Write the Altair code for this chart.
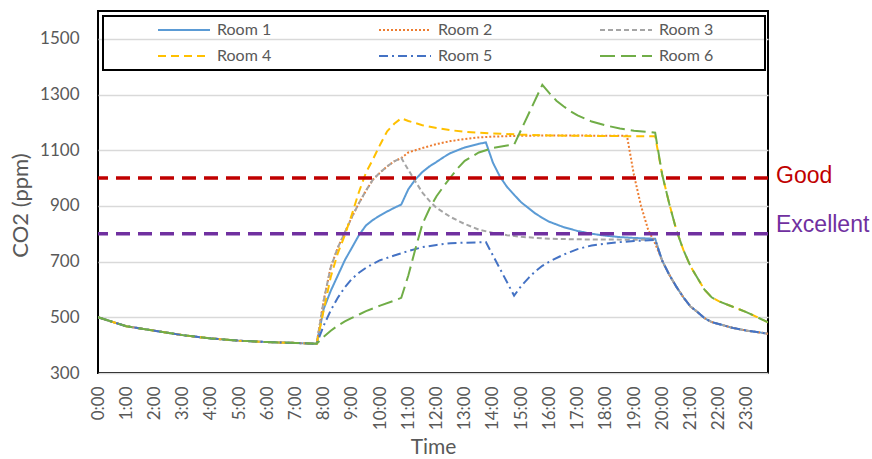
import altair as alt
import pandas as pd

ROOMS = ["Room 1", "Room 2", "Room 3", "Room 4", "Room 5", "Room 6"]
COLORS = ["#5B9BD5", "#ED7D31", "#A5A5A5", "#FFC000", "#4472C4", "#70AD47"]
DASHES = [[1, 0], [2, 2], [5, 3], [8, 5], [9, 4, 2, 4], [15, 6]]

# Overnight decay, the same in every room (ppm)
NIGHT_TIME = ["0:00", "1:00", "2:00", "3:00", "4:00", "5:00", "6:00", "7:00", "7:45"]
NIGHT_CO2 = [500, 468, 452, 436, 424, 416, 411, 408, 405]

# Room 1
R1_TIME = ["8:00", "8:15", "8:30", "8:45", "9:00", "9:15", "9:30", "9:45", "10:00", "10:15",
           "10:30", "10:45", "11:00", "11:15", "11:30", "11:45", "12:00", "12:15", "12:30",
           "13:00", "13:30", "13:45", "14:00", "14:15", "14:30", "14:45", "15:00", "15:15",
           "15:30", "15:45", "16:00", "16:30", "17:00", "17:30", "18:00", "18:30", "19:00", "19:45"]
R1_CO2 = [530, 595, 650, 705, 750, 795, 830, 850, 866, 880,
          893, 905, 960, 995, 1022, 1042, 1058, 1075, 1090,
          1110, 1123, 1128, 1055, 1005, 968, 940, 913, 893,
          873, 857, 843, 824, 810, 800, 793, 788, 785, 782]

# Morning rise shared by rooms 2 and 3
R23_RISE_TIME = ["8:00", "8:15", "8:30", "8:45", "9:00", "9:15", "9:30", "9:45", "10:00",
                 "10:15", "10:30", "10:45"]
R23_RISE_CO2 = [560, 680, 750, 805, 860, 910, 955, 995, 1020, 1042, 1060, 1072]

# Room 2
R2_TIME = ["11:00", "11:30", "12:00", "12:30", "13:00", "13:30", "14:00", "15:00", "16:00",
           "18:45", "19:00", "19:15", "19:30", "19:45"]
R2_CO2 = [1092, 1108, 1122, 1133, 1140, 1146, 1149, 1152, 1153, 1152, 1010, 900, 815, 765]

# Room 3
R3_TIME = ["11:00", "11:15", "11:30", "11:45", "12:00", "12:30", "13:00", "13:30", "14:00",
           "14:30", "15:00", "16:00", "17:00", "19:45"]
R3_CO2 = [1030, 988, 948, 918, 893, 860, 835, 815, 803, 795, 789, 782, 780, 778]

# Room 4
R4_TIME = ["8:00", "8:15", "8:30", "8:45", "9:00", "9:15", "9:30", "9:45", "10:00", "10:15",
           "10:30", "10:45", "11:00", "11:30", "12:00", "12:30", "13:00", "14:00", "15:00",
           "16:00", "17:00", "18:00", "19:45"]
R4_CO2 = [525, 645, 730, 795, 870, 950, 1020, 1068, 1120, 1168,
          1195, 1215, 1205, 1190, 1180, 1172, 1166, 1160, 1156,
          1153, 1152, 1151, 1150]

# Room 5
R5_TIME = ["8:00", "8:15", "8:30", "8:45", "9:00", "9:15", "9:30", "9:45", "10:00", "10:30",
           "11:00", "11:30", "12:00", "12:30", "13:00", "13:45", "14:45", "15:00", "15:15",
           "15:30", "15:45", "16:00", "16:30", "17:00", "17:30", "18:00", "18:30", "19:00", "19:45"]
R5_CO2 = [470, 525, 570, 608, 638, 660, 678, 692, 705, 722,
          738, 752, 760, 766, 768, 770, 578, 612, 640,
          665, 685, 700, 725, 745, 758, 765, 770, 774, 778]

# Room 6
R6_TIME = ["8:00", "8:15", "8:30", "8:45", "9:00", "9:30", "10:00", "10:30", "10:45", "11:00",
           "11:15", "11:30", "11:45", "12:00", "12:15", "12:30", "12:45", "13:00", "13:30",
           "14:00", "14:30", "14:45", "15:45", "16:00", "16:15", "16:30", "16:45", "17:00",
           "17:30", "18:00", "18:30", "19:00", "19:45"]
R6_CO2 = [430, 452, 470, 485, 498, 522, 542, 560, 570, 650,
          745, 835, 890, 935, 970, 1003, 1035, 1062, 1092,
          1108, 1117, 1120, 1335, 1305, 1278, 1258, 1240, 1225,
          1203, 1189, 1178, 1170, 1163]

# Evening decay after ventilation: rooms 1, 2, 3, 5 and rooms 4, 6
EVE_TIME = ["20:00", "20:15", "20:30", "20:45", "21:00", "21:15", "21:30", "21:45", "22:00",
            "22:30", "23:00", "23:30", "23:45"]
EVE_LOW_CO2 = [703, 653, 610, 572, 539, 519, 497, 483, 476, 462, 452, 445, 441]
EVE_HIGH_CO2 = [1012, 908, 814, 742, 684, 641, 599, 572, 558, 538, 518, 494, 482]

THRESHOLDS = [1000, 800]
THRESHOLD_LABELS = ["Good", "Excellent"]
THRESHOLD_COLORS = ["#C00000", "#7030A0"]
THRESHOLD_DY = [-2, -9]


def to_hours(t):
    h, m = t.split(":")
    return int(h) + int(m) / 60


pieces = {
    "Room 1": [(R1_TIME, R1_CO2), (EVE_TIME, EVE_LOW_CO2)],
    "Room 2": [(R23_RISE_TIME, R23_RISE_CO2), (R2_TIME, R2_CO2), (EVE_TIME, EVE_LOW_CO2)],
    "Room 3": [(R23_RISE_TIME, R23_RISE_CO2), (R3_TIME, R3_CO2), (EVE_TIME, EVE_LOW_CO2)],
    "Room 4": [(R4_TIME, R4_CO2), (EVE_TIME, EVE_HIGH_CO2)],
    "Room 5": [(R5_TIME, R5_CO2), (EVE_TIME, EVE_LOW_CO2)],
    "Room 6": [(R6_TIME, R6_CO2), (EVE_TIME, EVE_HIGH_CO2)],
}

rows = []
for room in ROOMS:
    for times, vals in [(NIGHT_TIME, NIGHT_CO2)] + pieces[room]:
        for t, v in zip(times, vals):
            rows.append({"room": room, "hour": to_hours(t), "co2": v})
df = pd.DataFrame(rows)

FONT = "Lato"
GREY = "#595959"
W, H = 670, 362

legend = alt.Legend(
    orient="none", legendX=5, legendY=5, direction="horizontal", columns=3,
    title=" ", titleOrient="right", titlePadding=46,
    symbolType="stroke", symbolSize=2704, symbolStrokeWidth=2, clipHeight=16,
    symbolOffset=48,
    rowPadding=10, columnPadding=58, gridAlign="all",
    labelFont=FONT, labelFontSize=16, labelColor=GREY, labelOffset=6,
    strokeColor="black", padding=6,
)

x_enc = alt.X(
    "hour:Q",
    scale=alt.Scale(domain=[0, 23.75], nice=False, zero=False),
    axis=alt.Axis(
        values=list(range(24)), tickCount=48, labelExpr="datum.value + ':00'", labelAngle=270,
        labelOverlap=False, labelFlush=False,
        grid=False, domain=False, ticks=False, labelPadding=13,
        labelFont=FONT, labelFontSize=17, labelColor=GREY,
        title="Time", titleFont=FONT, titleFontSize=21, titleColor=GREY,
        titleFontWeight="normal", titleY=74, titleBaseline="middle",
    ),
)
y_enc = alt.Y(
    "co2:Q",
    scale=alt.Scale(domain=[300, 1600], nice=False, zero=False),
    axis=alt.Axis(
        values=list(range(300, 1600, 200)), format="d", labelOverlap=False,
        grid=True, gridColor="#D9D9D9", gridWidth=1.5,
        domain=False, ticks=False, labelPadding=19,
        labelFont=FONT, labelFontSize=17, labelColor=GREY,
        title="CO2 (ppm)", titleFont=FONT, titleFontSize=22, titleColor=GREY,
        titleFontWeight="normal", titleX=-78, titleY=194, titleBaseline="middle",
    ),
)

lines = alt.Chart(df).mark_line(strokeWidth=2, clip=True).encode(
    x=x_enc,
    y=y_enc,
    color=alt.Color("room:N", scale=alt.Scale(domain=ROOMS, range=COLORS), legend=legend),
    strokeDash=alt.StrokeDash("room:N", scale=alt.Scale(domain=ROOMS, range=DASHES), legend=legend),
)

layers = [lines]
for val, lab, col, dy in zip(THRESHOLDS, THRESHOLD_LABELS, THRESHOLD_COLORS, THRESHOLD_DY):
    tdf = pd.DataFrame({"co2": [val], "label": [lab], "hour": [23.75]})
    layers.append(
        alt.Chart(tdf).mark_rule(color=col, strokeWidth=3.5, strokeDash=[14, 8]).encode(y="co2:Q")
    )
    layers.append(
        alt.Chart(tdf).mark_text(
            align="left", baseline="middle", dx=8, dy=dy,
            font="Liberation Sans", fontSize=23, color=col,
        ).encode(x="hour:Q", y="co2:Q", text="label:N")
    )

chart = alt.layer(*layers).properties(
    width=W, height=H,
    autosize=alt.AutoSizeParams(type="none"),
    padding={"left": 98, "top": 11, "right": 104, "bottom": 86},
    background="white",
).configure_view(
    stroke="black", strokeWidth=2
).configure_legend(
    strokeWidth=2
)

chart.save("out.html", embed_options={"renderer": "svg", "actions": False})
